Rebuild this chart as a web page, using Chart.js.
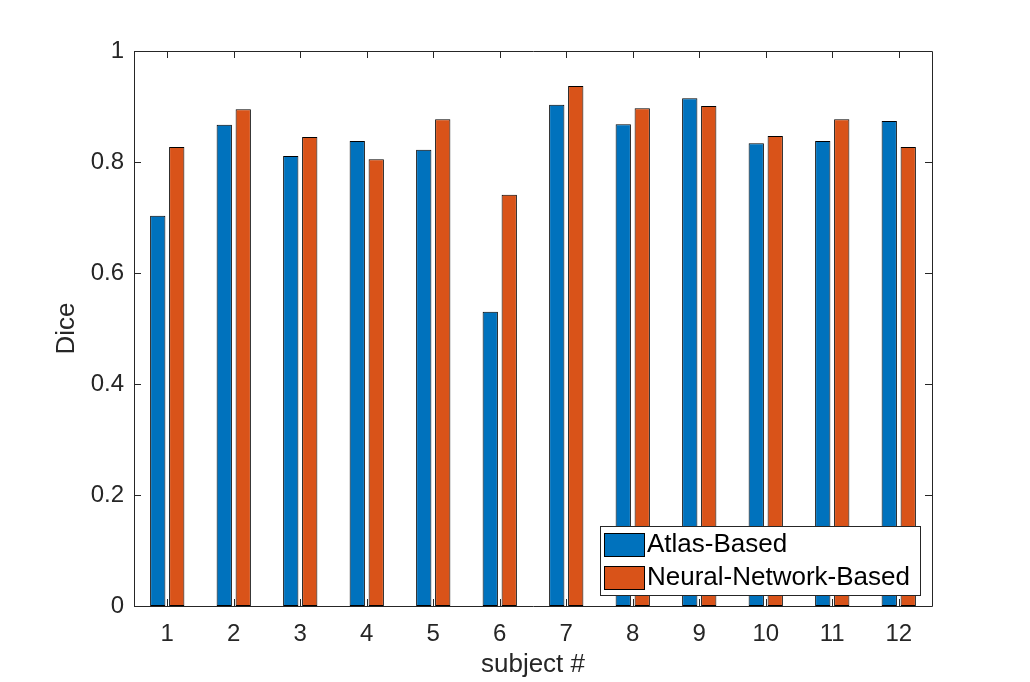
<!DOCTYPE html>
<html>
<head>
<meta charset="utf-8">
<script src="https://cdn.jsdelivr.net/npm/chart.js@4.4.1/dist/chart.umd.min.js"></script>
<style>
  body { margin: 0; background: #fff; }
  #wrap { width: 1030px; height: 682px; }
</style>
</head>
<body>
<div id="wrap"><canvas id="dice" width="1030" height="682"></canvas></div>
<script>
const subjects = ['1', '2', '3', '4', '5', '6', '7', '8', '9', '10', '11', '12'];
const atlasBased = [0.703, 0.867, 0.811, 0.838, 0.822, 0.530, 0.903, 0.868, 0.915, 0.834, 0.838, 0.874];
const neuralNetworkBased = [0.827, 0.895, 0.845, 0.805, 0.877, 0.741, 0.937, 0.897, 0.901, 0.847, 0.877, 0.827];
const yTicks = [0, 0.2, 0.4, 0.6, 0.8, 1];

const axisColor = '#262626';
const fontFamily = "'Liberation Sans', Arial, sans-serif";

// box round the axes with inward tick marks, like MATLAB
const boxPlugin = {
    id: 'boxPlugin',
    afterDraw(chart) {
        const ctx = chart.ctx;
        const a = chart.chartArea;
        const x = chart.scales.x;
        const y = chart.scales.y;
        const len = 7;
        ctx.save();
        ctx.strokeStyle = axisColor;
        ctx.lineWidth = 1;
        ctx.beginPath();
        ctx.rect(Math.round(a.left) + 0.5, Math.round(a.top) + 0.5, Math.round(a.right - a.left), Math.round(a.bottom - a.top));
        subjects.forEach((s, i) => {
            const px = Math.round(x.getPixelForValue(i)) + 0.5;
            ctx.moveTo(px, a.bottom);
            ctx.lineTo(px, a.bottom - len);
            ctx.moveTo(px, a.top);
            ctx.lineTo(px, a.top + len);
        });
        yTicks.forEach(v => {
            const py = Math.round(y.getPixelForValue(v)) + 0.5;
            ctx.moveTo(a.left, py);
            ctx.lineTo(a.left + len, py);
            ctx.moveTo(a.right, py);
            ctx.lineTo(a.right - len, py);
        });
        ctx.stroke();
        ctx.restore();
    }
};

// legend drawn inside the axes, bottom right
const insideLegend = {
    id: 'insideLegend',
    afterDraw(chart) {
        const ctx = chart.ctx;
        const left = 600, top = 526, width = 320, height = 69;
        ctx.save();
        ctx.fillStyle = '#ffffff';
        ctx.fillRect(left, top, width, height);
        ctx.strokeStyle = axisColor;
        ctx.lineWidth = 1;
        ctx.strokeRect(left + 0.5, top + 0.5, width, height);
        ctx.font = '26px ' + fontFamily;
        ctx.textBaseline = 'middle';
        ctx.textAlign = 'left';
        chart.data.datasets.forEach((ds, i) => {
            const rowY = top + 7 + i * 33;
            ctx.fillStyle = ds.backgroundColor;
            ctx.fillRect(604, rowY, 40, 23);
            ctx.strokeStyle = '#000000';
            ctx.strokeRect(604.5, rowY + 0.5, 40, 23);
            ctx.fillStyle = '#000000';
            ctx.fillText(ds.label, 647, rowY + 12);
        });
        ctx.restore();
    }
};

new Chart(document.getElementById('dice').getContext('2d'), {
    type: 'bar',
    data: {
        labels: subjects,
        datasets: [{
            label: 'Atlas-Based',
            data: atlasBased,
            backgroundColor: 'rgb(0, 114, 189)',
            borderColor: '#000000',
            borderWidth: 1,
            borderSkipped: false
        }, {
            label: 'Neural-Network-Based',
            data: neuralNetworkBased,
            backgroundColor: 'rgb(217, 83, 25)',
            borderColor: '#000000',
            borderWidth: 1,
            borderSkipped: false
        }]
    },
    options: {
        responsive: false,
        animation: false,
        devicePixelRatio: 1,
        categoryPercentage: 0.571,
        barPercentage: 0.805,
        layout: { padding: { top: 51, right: 98, left: 0, bottom: 0 } },
        plugins: {
            legend: { display: false },
            tooltip: { enabled: false }
        },
        scales: {
            x: {
                grid: { display: false, drawTicks: false },
                border: { display: false },
                ticks: {
                    color: axisColor,
                    padding: 14,
                    maxRotation: 0,
                    font: { family: fontFamily, size: 24 }
                },
                title: {
                    display: true,
                    text: 'subject #',
                    color: axisColor,
                    padding: { top: 0, bottom: 2 },
                    font: { family: fontFamily, size: 26 }
                },
                afterFit(scale) { scale.height = 76; }
            },
            y: {
                min: 0,
                max: 1,
                grid: { display: false, drawTicks: false },
                border: { display: false },
                afterBuildTicks(scale) {
                    scale.ticks = yTicks.map(v => ({ value: v }));
                },
                ticks: {
                    color: axisColor,
                    padding: 10,
                    font: { family: fontFamily, size: 24 },
                    callback: v => String(v)
                },
                title: {
                    display: true,
                    text: 'Dice',
                    color: axisColor,
                    padding: { top: 51, bottom: 0 },
                    font: { family: fontFamily, size: 26 }
                },
                afterFit(scale) { scale.width = 134; }
            }
        }
    },
    plugins: [boxPlugin, insideLegend]
});
</script>
</body>
</html>
